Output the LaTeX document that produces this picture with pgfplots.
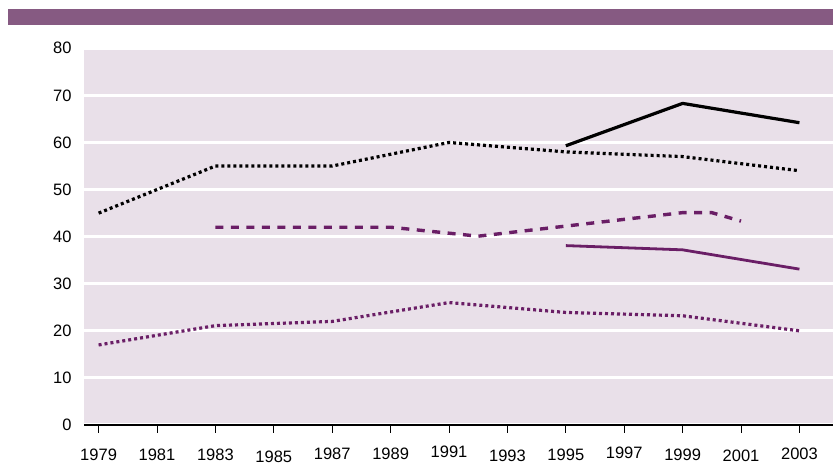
\documentclass[border=0pt]{standalone}
\usepackage{fontspec}
\setmainfont{Liberation Sans}
\usepackage{pgfplots}
\pgfplotsset{compat=1.18}
\definecolor{bgcol}{RGB}{233,224,233}
\definecolor{barcol}{RGB}{134,90,130}
\definecolor{purp}{RGB}{106,30,102}
\begin{document}
\begin{tikzpicture}
\useasboundingbox (0,0) rectangle (833bp,464bp);
\fill[barcol] (8bp,439bp) rectangle (833bp,455bp);
\begin{axis}[
  at={(84bp,39bp)}, anchor=south west,
  scale only axis, width=749bp, height=376.7bp,
  xmin=1978.5, xmax=2004.15, ymin=0, ymax=80,
  axis background/.style={fill=bgcol},
  axis lines*=left,
  x axis line style={black, line width=1.5bp, -},
  y axis line style={draw=none},
  ytick={0,10,...,80},
  ytick style={draw=none},
  xtick={1979,1981,...,2003},
  xticklabels={1979,1981,1983,\raisebox{-2bp}{1985},\raisebox{1bp}{1987},\raisebox{1bp}{1989},\raisebox{2.5bp}{1991},\raisebox{-1.5bp}{1993},1995,\raisebox{2bp}{1997},1999,\raisebox{-1.5bp}{2001},\raisebox{0.5bp}{2003}},
  xtick style={black, line width=1bp},
  tick align=outside,
  major tick length=8bp,
  ymajorgrids,
  grid style={white, line width=3bp},
  yticklabel style={font=\fontsize{16.5bp}{19bp}\selectfont, xshift=-1bp},
  xticklabel style={font=\fontsize{16.5bp}{19bp}\selectfont, anchor=base, yshift=-27bp},
  /pgf/number format/assume math mode=true,
  clip=false,
]
\addplot[black, line width=3.2bp, dash pattern=on 3bp off 3bp] coordinates {(1979,45)(1983,55)(1987,55)(1991,60)(1995,58)(1999,57)(2003,54)};
\addplot[black, line width=3.2bp] coordinates {(1995,59.3)(1999,68.3)(2003,64.2)};
\addplot[purp, line width=3.4bp, dash pattern=on 8bp off 7.5bp] coordinates {(1983,42)(1989,42)(1992,40.1)(1999,45.1)(2000,45.1)(2001,43.3)};
\addplot[purp, line width=2.8bp] coordinates {(1995,38.1)(1999,37.2)(2003,33.1)};
\addplot[purp, line width=3.2bp, dash pattern=on 3bp off 3bp] coordinates {(1979,17)(1983,21.1)(1987,22)(1991,26)(1995,23.9)(1999,23.2)(2003,20)};
\end{axis}
\end{tikzpicture}
\end{document}
